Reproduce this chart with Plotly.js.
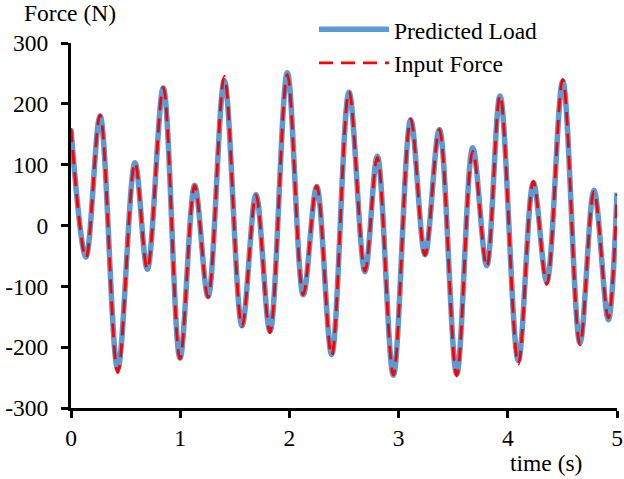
<!DOCTYPE html>
<html>
<head>
<meta charset="utf-8">
<script src="https://cdn.plot.ly/plotly-3.0.1.min.js"></script>
<style>
html,body{margin:0;padding:0;background:#fff;}
#chart{width:624px;height:479px;}
</style>
</head>
<body>
<div id="chart"></div>
<script>
// time (s) of readings (start, local extrema, end)
const timeS = [0, 0.137, 0.266, 0.428, 0.586, 0.699, 0.845, 0.998, 1.133, 1.255, 1.404, 1.566, 1.694,
  1.822, 1.981, 2.127, 2.25, 2.387, 2.546, 2.692, 2.805, 2.952, 3.111, 3.242, 3.373,
  3.532, 3.679, 3.807, 3.929, 4.096, 4.234, 4.357, 4.503, 4.661, 4.789, 4.92, 5.0];
// Predicted Load (N)
const predictedLoad = [158, -52, 180, -236, 103, -72, 226, -218, 66, -117, 238, -165, 51,
  -174, 251, -114, 64, -212, 219, -76, 114, -246, 174, -48, 158,
  -244, 128, -66, 213, -222, 70, -92, 237, -193, 58, -155, 54];
// Input Force (N)
const inputForce = [160, -53, 182, -242, 103, -72, 227, -219, 66, -118, 245, -166, 50,
  -176, 248, -114, 65, -214, 220, -75, 112, -246, 175, -49, 158,
  -247, 122, -68, 214, -228, 73, -97, 240, -196, 56, -152, 52];

const xTickVals = [0, 1, 2, 3, 4, 5];
const xTickText = ['0', '1', '2', '3', '4', '5'];
const yTickVals = [-300, -200, -100, 0, 100, 200, 300];
const yTickText = ['-300', '-200', '-100', '0', '100', '200', '300'];

const FONT = '"Liberation Serif"';
const FS = 23.5;

const traces = [
  {
    x: timeS, y: predictedLoad, type: 'scatter', mode: 'lines', name: 'Predicted Load',
    legendgroup: 'a',
    line: {color: '#5B9BD5', width: 5.5, shape: 'spline', smoothing: 1}
  },
  {
    x: timeS, y: inputForce, type: 'scatter', mode: 'lines', name: 'Input Force',
    legendgroup: 'b',
    line: {color: '#FF0000', width: 2.8, dash: '14px,8px', shape: 'spline', smoothing: 1}
  }
];

const layout = {
  width: 624, height: 479,
  margin: {l: 71, r: 7, t: 43, b: 71},
  paper_bgcolor: '#fff', plot_bgcolor: '#fff',
  font: {family: FONT, size: FS, color: '#000'},
  showlegend: true,
  legend: {
    x: 0.445, y: 1.097, xanchor: 'left', yanchor: 'top',
    bgcolor: 'rgba(0,0,0,0)', font: {family: FONT, size: FS, color: '#000'},
    itemwidth: 70, tracegroupgap: 0
  },
  xaxis: {
    range: [0, 5], tickvals: xTickVals, ticktext: xTickText,
    showline: true, linecolor: '#000', linewidth: 3,
    ticks: 'outside', ticklen: 7, tickwidth: 3, tickcolor: '#000',
    tickfont: {family: FONT, size: FS, color: '#000'},
    showgrid: false, zeroline: false, fixedrange: true
  },
  yaxis: {
    range: [-300, 300], tickvals: yTickVals, ticktext: yTickText,
    showline: true, linecolor: '#000', linewidth: 3,
    ticks: 'outside', ticklen: 7, tickwidth: 3, tickcolor: '#000',
    tickfont: {family: FONT, size: FS, color: '#000'},
    ticklabelstandoff: 8,
    showgrid: false, zeroline: false, fixedrange: true
  },
  annotations: [
    {text: 'Force (N)', xref: 'paper', yref: 'paper', x: -0.09, y: 1.082,
     xanchor: 'left', yanchor: 'middle', showarrow: false, font: {family: FONT, size: FS, color: '#000'}},
    {text: 'time (s)', xref: 'paper', yref: 'paper', x: 0.87, y: -0.151,
     xanchor: 'center', yanchor: 'middle', showarrow: false, font: {family: FONT, size: FS, color: '#000'}}
  ]
};

Plotly.newPlot('chart', traces, layout, {displayModeBar: false, staticPlot: true});
</script>
</body>
</html>
